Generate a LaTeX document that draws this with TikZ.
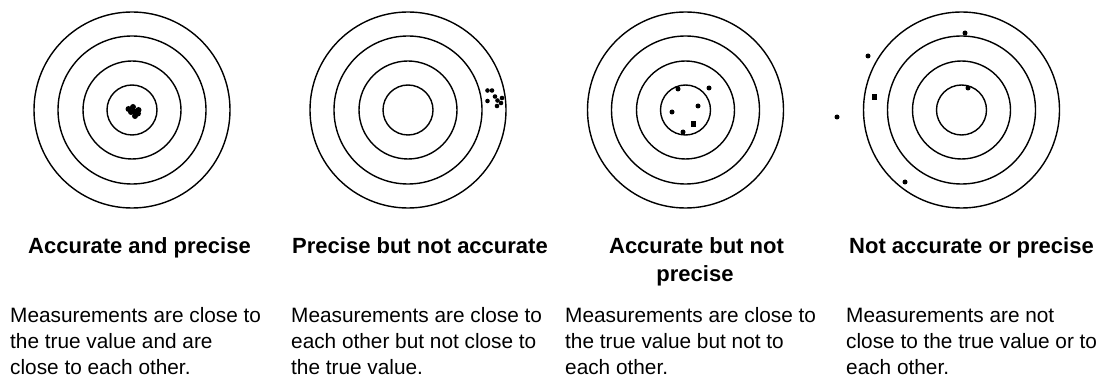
\documentclass[tikz,border=0pt]{standalone}
\usepackage{fontspec}
\setmainfont{Liberation Sans}
\begin{document}
\begin{tikzpicture}[x=1pt,y=-1pt,
  ring/.style={draw=black, line width=1.4pt},
  shot/.style={fill=black},
  title/.style={font=\fontsize{22}{26}\selectfont\bfseries, anchor=base, inner sep=0pt},
  desc/.style={font=\fontsize{20.8}{26}\selectfont, anchor=base west, inner sep=0pt}]
\useasboundingbox (0,0) rectangle (1102,379);
\fill[white] (0,0) rectangle (1102,379);
% targets
\foreach \cx/\n in {132/t1, 408/t2, 685.5/t3, 961.5/t4}{
  \coordinate (\n) at (\cx,110);
  \foreach \r in {25,49,74,98} \draw[ring] (\n) circle[radius=\r];
}
% target 1: tight cluster at centre
\foreach \p in {(128.5,109),(133,107),(134,111.5),(138.5,110),(135,116),(138,113.5),(131,112)}
  \fill[shot] \p circle[radius=3];
% target 2: cluster near right edge
\foreach \p in {(487.5,90.5),(492,90.5),(487.5,101),(495,96.5),(497.5,100.5),(497,106),(502,98),(501,103)}
  \fill[shot] \p circle[radius=2.3];
% target 3: scattered near centre
\foreach \p in {(678,89),(709,88),(672,112),(698,106),(683,132)}
  \fill[shot] \p circle[radius=2.5];
\fill[shot] (690.5,121.5) rectangle (696,127);
% target 4: scattered widely
\foreach \p in {(965,33),(868,56),(837,117),(905,182),(968,88)}
  \fill[shot] \p circle[radius=2.5];
\fill[shot] (871.5,94.5) rectangle (877,100);
% titles
\node[title] (h1) at (139.5,254) {Accurate and precise};
\node[title] (h2) at (420,254) {Precise but not accurate};
\node[title] (h3a) at (696.5,254) {Accurate but not};
\node[title] (h3b) at (695,281) {precise};
\node[title] (h4) at (971.5,254) {Not accurate or precise};
% descriptions
\node[desc] (d1a) at (10,322) {Measurements are close to};
\node[desc] (d1b) at (10,348) {the true value and are};
\node[desc] (d1c) at (10,374) {close to each other.};
\node[desc] (d2a) at (291,322) {Measurements are close to};
\node[desc] (d2b) at (291,348) {each other but not close to};
\node[desc] (d2c) at (291,374) {the true value.};
\node[desc] (d3a) at (565,322) {Measurements are close to};
\node[desc] (d3b) at (565,348) {the true value but not to};
\node[desc] (d3c) at (565,374) {each other.};
\node[desc] (d4a) at (846,322) {Measurements are not};
\node[desc] (d4b) at (846,348) {close to the true value or to};
\node[desc] (d4c) at (846,374) {each other.};
\end{tikzpicture}
\end{document}
